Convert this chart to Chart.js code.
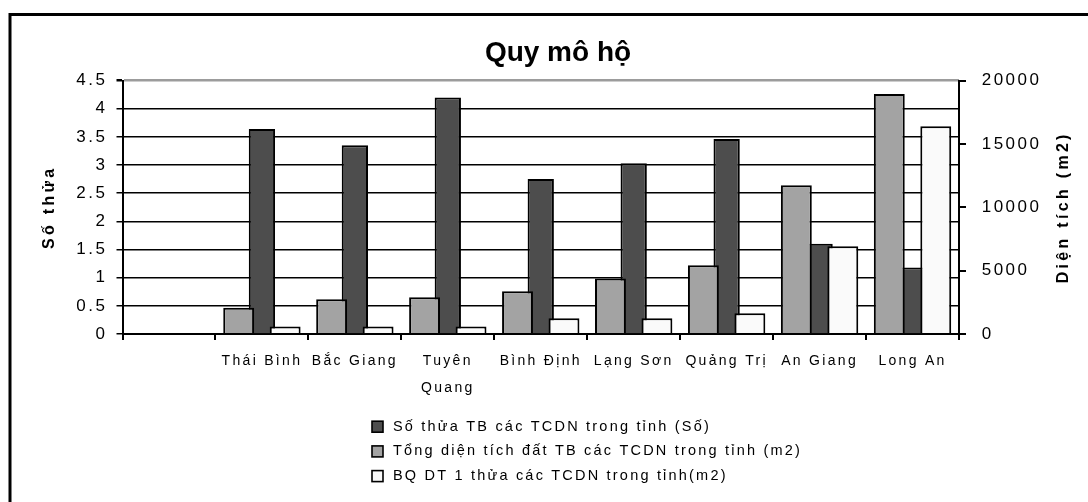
<!DOCTYPE html>
<html lang="vi">
<head>
<meta charset="utf-8">
<title>Quy mô hộ</title>
<script src="https://cdn.jsdelivr.net/npm/chart.js@4/dist/chart.umd.min.js"></script>
<style>
  html, body { margin: 0; padding: 0; background: #fff; }
  canvas { display: block; }
</style>
</head>
<body>
<canvas id="chart" width="1088" height="502"></canvas>
<script>
// Categories (the first slot is left empty, as in the workbook)
const categories = ['', 'Thái Bình', 'Bắc Giang', ['Tuyên', 'Quang'], 'Bình Định', 'Lạng Sơn', 'Quảng Trị', 'An Giang', 'Long An'];

// Số thửa TB (left axis)
const soThua = [null, 3.64, 3.35, 4.20, 2.75, 3.03, 3.46, 1.60, 1.18];
// Tổng diện tích đất TB, m2 (right axis)
const tongDienTich = [null, 2080, 2740, 2900, 3370, 4370, 5420, 11740, 18930];
// BQ diện tích 1 thửa, m2 (right axis)
const bqDienTich = [null, 600, 600, 600, 1240, 1240, 1630, 6930, 16400];

// Axis ticks
const leftTicks = [0, 0.5, 1, 1.5, 2, 2.5, 3, 3.5, 4, 4.5];
const rightTicks = [0, 5000, 10000, 15000, 20000];

// Texts
const seriesNames = [
  'Số thửa TB các TCDN trong tỉnh (Số)',
  'Tổng diện tích đất TB các TCDN trong tỉnh (m2)',
  'BQ DT 1 thửa các TCDN trong tỉnh(m2)'
];
const chartTitle = 'Quy mô hộ';
const leftAxisTitle = 'Số thửa';
const rightAxisTitle = 'Diện tích (m2)';

const FONT = '"Liberation Sans", Arial, Helvetica, sans-serif';
Chart.defaults.font.family = FONT;
Chart.defaults.color = '#000';

// Wide, loosely spaced lettering for everything except the big title
function spacingFor(font) {
  const m = /([\d.]+)px/.exec(font);
  const px = m ? parseFloat(m[1]) : 12;
  if (/bold|700/.test(font)) return px >= 20 ? 0 : 3.3;
  if (px >= 16) return 2.5;
  if (px >= 14.5) return 2.2;
  return 2.3;
}

const letterSpacingPlugin = {
  id: 'letterSpacing',
  afterInit(chart) {
    const ctx = chart.ctx;
    const fill = ctx.fillText;
    const measure = ctx.measureText;
    ctx.fillText = function (t, x, y, w) {
      this.letterSpacing = spacingFor(this.font) + 'px';
      return w === undefined ? fill.call(this, t, x, y) : fill.call(this, t, x, y, w);
    };
    ctx.measureText = function (t) {
      this.letterSpacing = spacingFor(this.font) + 'px';
      return measure.call(this, t);
    };
  }
};

// White page with the heavy outer frame
const framePlugin = {
  id: 'frame',
  beforeDraw(chart) {
    const ctx = chart.ctx;
    ctx.save();
    ctx.fillStyle = '#fff';
    ctx.fillRect(0, 0, chart.width, chart.height);
    ctx.strokeStyle = '#000';
    ctx.lineWidth = 3;
    ctx.strokeRect(10, 14.5, chart.width + 40, chart.height + 40);
    ctx.restore();
  }
};

// Right axis title (reads bottom-to-top) and the stacked legend underneath
const extrasPlugin = {
  id: 'extras',
  afterDraw(chart) {
    const ctx = chart.ctx;
    const area = chart.chartArea;

    ctx.save();
    ctx.translate(1064, (area.top + area.bottom) / 2);
    ctx.rotate(-Math.PI / 2);
    ctx.font = 'bold 16px ' + FONT;
    ctx.fillStyle = '#000';
    ctx.textAlign = 'center';
    ctx.textBaseline = 'middle';
    ctx.fillText(rightAxisTitle, 0, 0);
    ctx.restore();

    const boxX = 372, firstRow = 426.7, rowStep = 24.7, box = 11;
    ctx.save();
    ctx.font = '14.5px ' + FONT;
    ctx.textAlign = 'left';
    ctx.textBaseline = 'middle';
    chart.data.datasets.forEach((ds, i) => {
      const cy = firstRow + i * rowStep;
      ctx.fillStyle = ds.backgroundColor;
      ctx.fillRect(boxX, cy - box / 2, box, box);
      ctx.strokeStyle = '#000';
      ctx.lineWidth = 1.6;
      ctx.strokeRect(boxX, cy - box / 2, box, box);
      ctx.fillStyle = '#000';
      ctx.fillText(ds.label, boxX + 21, cy);
    });
    ctx.restore();
  }
};

new Chart(document.getElementById('chart'), {
  type: 'bar',
  data: {
    labels: categories,
    datasets: [
      {
        label: seriesNames[0],
        data: soThua,
        yAxisID: 'y',
        backgroundColor: '#4d4d4d',
        borderColor: '#000',
        borderWidth: 2,
        grouped: false,
        categoryPercentage: 1,
        barPercentage: 0.283,
        order: 2
      },
      {
        label: seriesNames[1],
        data: tongDienTich,
        yAxisID: 'y1',
        backgroundColor: '#a3a3a3',
        borderColor: '#000',
        borderWidth: 2,
        categoryPercentage: 1,
        barPercentage: 0.665,
        order: 0
      },
      {
        label: seriesNames[2],
        data: bqDienTich,
        yAxisID: 'y1',
        backgroundColor: '#fafafa',
        borderColor: '#000',
        borderWidth: 2,
        categoryPercentage: 1,
        barPercentage: 0.665,
        order: 1
      }
    ]
  },
  options: {
    responsive: false,
    animation: false,
    devicePixelRatio: 1,
    events: [],
    layout: { padding: { left: 28, right: 0, top: 16, bottom: 100 } },
    plugins: {
      legend: { display: false },
      tooltip: { enabled: false },
      title: {
        display: true,
        text: chartTitle,
        color: '#000',
        font: { size: 28, weight: 'bold' },
        padding: { top: 20.8, bottom: 10.1 }
      }
    },
    scales: {
      x: {
        type: 'category',
        offset: true,
        grid: { offset: true, drawOnChartArea: false, drawTicks: true, tickLength: 6, color: '#000', lineWidth: 2 },
        border: { display: true, color: '#000', width: 2 },
        ticks: { color: '#000', font: { size: 14, lineHeight: 1.9 }, padding: 8, autoSkip: false, maxRotation: 0, minRotation: 0 },
        afterFit(s) { s.height = 68; }
      },
      y: {
        position: 'left',
        min: 0,
        max: 4.5,
        afterBuildTicks(s) { s.ticks = leftTicks.map(v => ({ value: v })); },
        grid: {
          color: c => (c.tick && c.tick.value === 4.5 ? '#9c9c9c' : '#000'),
          lineWidth: c => (c.tick && c.tick.value === 4.5 ? 2.5 : 1.5),
          tickColor: '#000',
          tickLength: 6,
          drawTicks: true
        },
        border: { color: '#000', width: 2 },
        ticks: { color: '#000', font: { size: 17 }, padding: 9, callback: v => String(v) },
        title: {
          display: true,
          text: leftAxisTitle,
          color: '#000',
          font: { size: 16, weight: 'bold' },
          padding: { top: 12, bottom: 0 }
        },
        afterFit(s) { s.width = 94.5; }
      },
      y1: {
        position: 'right',
        min: 0,
        max: 20000,
        afterBuildTicks(s) { s.ticks = rightTicks.map(v => ({ value: v })); },
        grid: { drawOnChartArea: false, drawTicks: true, tickLength: 7, color: '#000', lineWidth: 2 },
        border: { color: '#000', width: 2 },
        ticks: { color: '#000', font: { size: 17 }, padding: 15.7, callback: v => String(v) },
        title: { display: false },
        afterFit(s) { s.width = 129; }
      }
    }
  },
  plugins: [letterSpacingPlugin, framePlugin, extrasPlugin]
});
</script>
</body>
</html>
